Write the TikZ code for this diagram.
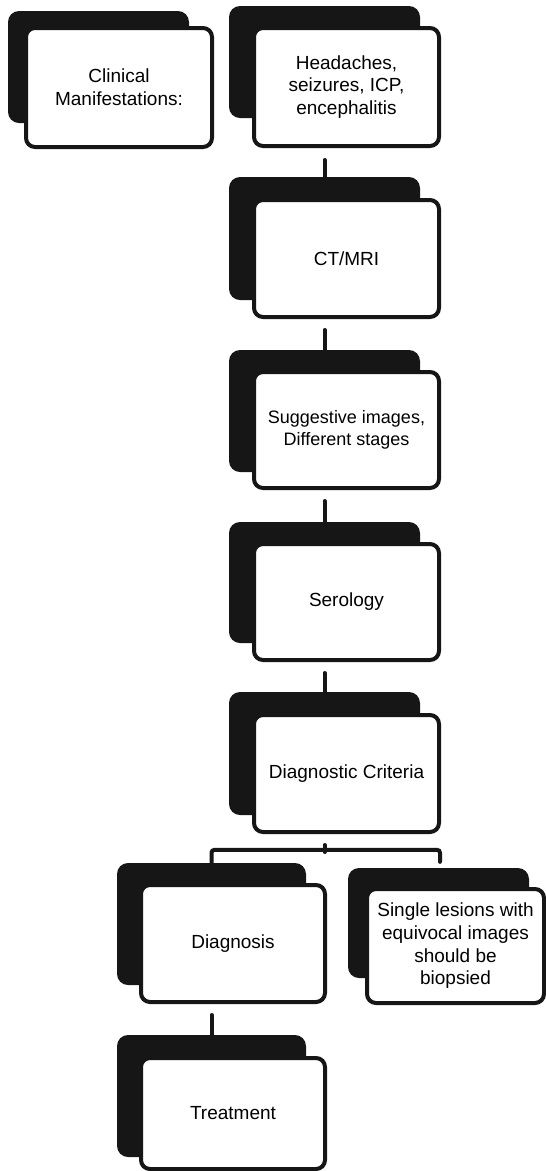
\documentclass[tikz,border=0pt]{standalone}
\usepackage{fontspec}
\setmainfont{Liberation Sans}
\usetikzlibrary{calc}
\definecolor{ink}{RGB}{22,22,22}
\begin{document}
\begin{tikzpicture}[x=1pt,y=-1pt,
  shadowbox/.style={fill=ink, draw=none, rounded corners=11pt, inner sep=0pt},
  whitebox/.style={fill=white, draw=ink, line width=4pt, rounded corners=9pt, inner sep=2pt,
    align=center, font=\fontsize{19}{22.7}\selectfont},
  conn/.style={draw=ink, line width=4pt, line cap=round}]
\useasboundingbox (0,0) rectangle (546,1171);
% shadows
\node[shadowbox, minimum width=181pt, minimum height=112pt] (s-clin) at (98.5,67) {};
\node[shadowbox, minimum width=191pt, minimum height=112pt] (s-head) at (324.5,62) {};
\node[shadowbox, minimum width=191pt, minimum height=123pt] (s-ct) at (324.5,238.5) {};
\node[shadowbox, minimum width=191pt, minimum height=122pt] (s-sug) at (324.5,411) {};
\node[shadowbox, minimum width=191pt, minimum height=121pt] (s-ser) at (324.5,582.5) {};
\node[shadowbox, minimum width=191pt, minimum height=123pt] (s-dc) at (324.5,753.5) {};
\node[shadowbox, minimum width=189pt, minimum height=122pt] (s-dgn) at (211.5,924) {};
\node[shadowbox, minimum width=181pt, minimum height=110pt] (s-sgl) at (438.5,923) {};
\node[shadowbox, minimum width=189pt, minimum height=122pt] (s-trt) at (211.5,1096) {};
% white boxes
\node[whitebox, minimum width=186pt, minimum height=119pt] (clin) at (119,87.5) {Clinical\\Manifestations:};
\node[whitebox, minimum width=185pt, minimum height=118pt] (head) at (346.5,87) {Headaches,\\seizures, ICP,\\encephalitis};
\node[whitebox, minimum width=185pt, minimum height=117pt] (ct) at (346.5,258.5) {CT/MRI};
\node[whitebox, minimum width=185pt, minimum height=116pt, font=\fontsize{18}{22.5}\selectfont] (sug) at (346.5,430) {Suggestive images,\\Different stages};
\node[whitebox, minimum width=185pt, minimum height=116pt] (ser) at (346.5,602) {Serology};
\node[whitebox, minimum width=185pt, minimum height=117pt] (dc) at (346.5,773.5) {Diagnostic Criteria};
\node[whitebox, minimum width=184pt, minimum height=117pt] (dgn) at (233,943.5) {Diagnosis};
\node[whitebox, minimum width=177pt, minimum height=114pt] (sgl) at (455.5,946) {Single lesions with\\equivocal images\\should be\\biopsied};
\node[whitebox, minimum width=184pt, minimum height=111pt] (trt) at (233,1113.5) {Treatment};
% connectors
\draw[conn] ($(head.south -| s-ct.north)+(0,12)$) -- (s-ct.north);
\draw[conn] ($(ct.south -| s-sug.north)+(0,11)$) -- (s-sug.north);
\draw[conn] ($(sug.south -| s-ser.north)+(0,11)$) -- (s-ser.north);
\draw[conn] ($(ser.south -| s-dc.north)+(0,11)$) -- (s-dc.north);
\draw[conn] ($(dc.south -| s-dc.north)+(0,11)$) -- ++(0,7);
\coordinate (sglend) at ($(s-sgl.north)+(1.5,-6)$);
\draw[conn, rounded corners=3pt] (s-dgn.north) -- ($(s-dgn.north)+(0,-13)$) -| (sglend);
\draw[conn] ($(dgn.south -| s-trt.north)+(0,11)$) -- (s-trt.north);
\end{tikzpicture}
\end{document}
